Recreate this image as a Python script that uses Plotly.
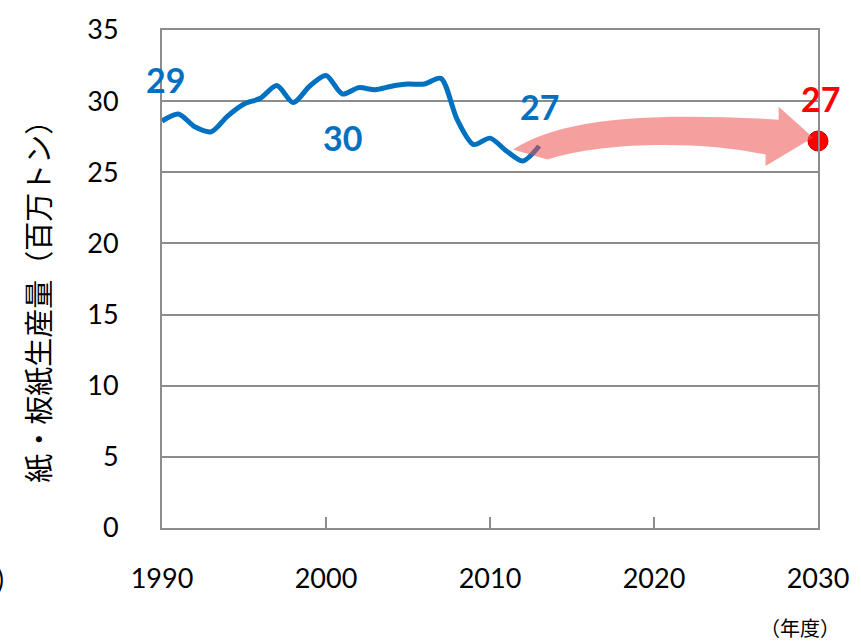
import plotly.graph_objects as go

# paper/paperboard production (million t)
years = list(range(1990, 2014))
production = [28.6, 29.1, 28.2, 27.85, 28.95, 29.8, 30.2, 31.1, 29.9, 31.05,
              31.8, 30.5, 30.95, 30.8, 31.05, 31.2, 31.2, 31.6, 28.7, 26.95,
              27.4, 26.5, 25.8, 26.85]

target_year = [2030]
target_value = [27.2]

# value labels: text, x, y, colour
label_text = ["29", "30", "27", "27"]
label_x = [1990.2, 2001.0, 2013.0, 2030.0]
label_y = [31.5, 27.45, 29.6, 30.2]
label_color = ["#0070C0", "#0070C0", "#0070C0", "#FF0000"]

y_ticks = [0, 5, 10, 15, 20, 25, 30, 35]
x_ticks = [1990, 2000, 2010, 2020, 2030]

BLUE = "#0070C0"
GRID = "#8C8C8C"
FONT = "Lato, 'Open Sans', sans-serif"
JP = "'Noto Sans CJK JP', sans-serif"

fig = go.Figure()

fig.add_trace(go.Scatter(
    x=years, y=production, mode="lines",
    line=dict(color=BLUE, width=5, shape="spline", smoothing=0.8),
    showlegend=False, hoverinfo="x+y",
))

fig.add_trace(go.Scatter(
    x=target_year, y=target_value, mode="markers",
    marker=dict(color="#FF0000", size=20, line=dict(color="#C00000", width=1)),
    showlegend=False, cliponaxis=False,
))

# curved block arrow from the last actual value to the 2030 target
arrow_path = (
    "M 2011.4,26.6 "
    "C 2014.5,28.9 2020,29.2 2027.6,28.7 "
    "L 2027.6,29.6 L 2029.7,27.45 L 2026.8,25.45 L 2026.8,26.25 "
    "C 2023,27.2 2017,27.2 2013.5,25.9 Z"
)
fig.add_shape(type="path", path=arrow_path, xref="x", yref="y",
              fillcolor="rgba(238,80,80,0.55)", line=dict(width=0),
              layer="above")

for t, x, y, c in zip(label_text, label_x, label_y, label_color):
    fig.add_annotation(x=x, y=y, xref="x", yref="y", text=f"<b>{t}</b>",
                       showarrow=False, xanchor="center", yanchor="middle",
                       xshift=2 if x >= 2030 else 0,
                       font=dict(family=FONT, size=34, color=c))

# y axis title
fig.add_annotation(x=-0.191, y=0.47, xref="paper", yref="paper",
                   xanchor="center", yanchor="middle",
                   text="紙・板紙生産量（百万トン）", textangle=-90,
                   showarrow=False, font=dict(family=JP, size=29, color="#000"))
# unit for x axis
fig.add_annotation(x=0.973, y=-0.199, xref="paper", yref="paper",
                   xanchor="center", yanchor="middle",
                   text="（年度）", showarrow=False,
                   font=dict(family=JP, size=20, color="#000"))
# cut-off bracket at the left edge
fig.add_annotation(x=-0.238, y=-0.103, xref="paper", yref="paper",
                   xanchor="right", yanchor="middle", text=")",
                   showarrow=False,
                   font=dict(family=FONT, size=26, color="#000"))

fig.update_layout(
    width=861, height=643,
    margin=dict(l=162, r=41, t=25, b=115),
    paper_bgcolor="white", plot_bgcolor="white",
    font=dict(family=FONT, size=27, color="#000"),
    xaxis=dict(range=[1990, 2030], tickvals=x_ticks, showgrid=False,
               showline=True, linecolor=GRID, linewidth=2, mirror=True,
               ticks="inside", ticklen=11, tickwidth=2, tickcolor=GRID,
               ticklabelstandoff=26, zeroline=False),
    yaxis=dict(range=[0, 35], tickvals=y_ticks, showgrid=True,
               gridcolor=GRID, gridwidth=2, showline=True, linecolor=GRID,
               linewidth=2, mirror=True, ticks="", ticklabelstandoff=36,
               zeroline=False),
)

# drop the browser's default body margin so the figure sits at the page corner
fig.write_html("out.html", config={"displayModeBar": False},
               post_script="document.body.style.margin='0';")
